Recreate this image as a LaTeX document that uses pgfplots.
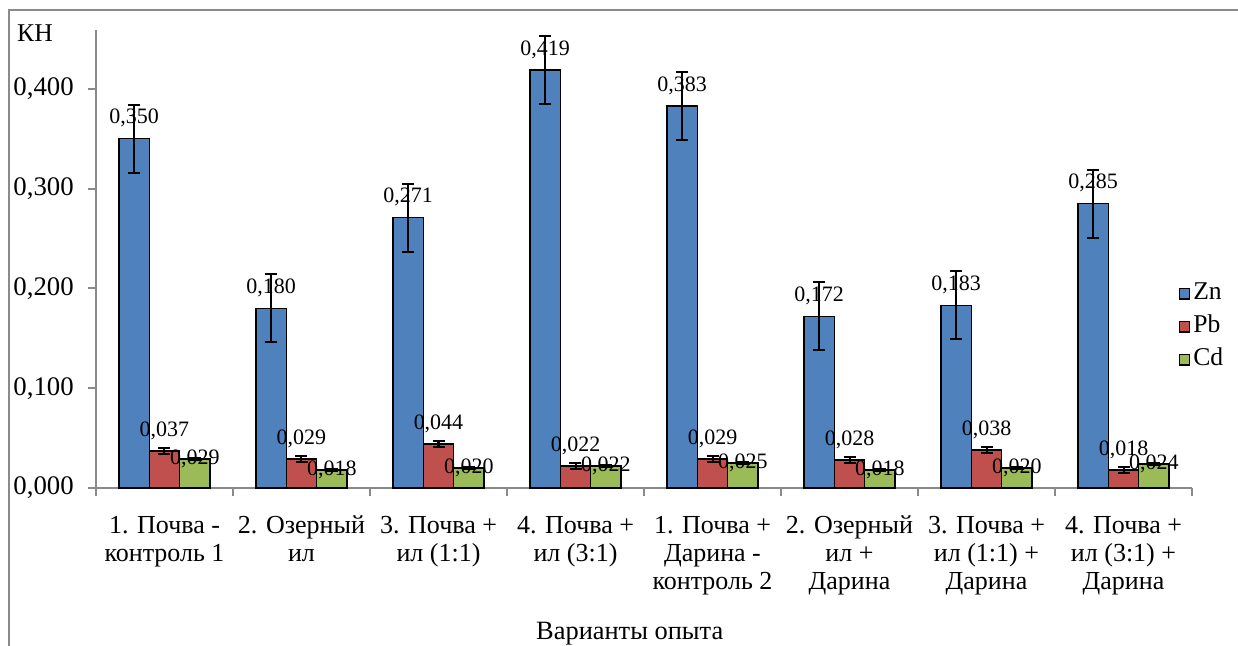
\documentclass[border=0pt]{standalone}
\usepackage{pgfplots}
\pgfplotsset{compat=1.18}
\usepackage{fontspec}
\setmainfont{Liberation Serif}
\definecolor{cZn}{HTML}{4F81BD}
\definecolor{cPb}{HTML}{C0504D}
\definecolor{cCd}{HTML}{9BBB59}
\definecolor{axgray}{HTML}{8A8A8A}
\begin{document}
\begin{tikzpicture}
\path[use as bounding box] (0,0) rectangle (619pt,323pt);
\draw[axgray, line width=1pt] (4.5pt,-2pt) -- (4.5pt,318pt) -- (625pt,318pt);
\begin{axis}[
  at={(48pt,79pt)}, anchor=south west,
  scale only axis, width=548pt, height=229pt,
  /pgf/number format/assume math mode=true,
  ybar=0pt, bar width=15.15pt,
  xmin=-0.5, xmax=7.5, ymin=0, ymax=0.459,
  axis x line=bottom, axis y line=left,
  axis line style={-, axgray, line width=1pt},
  tick align=outside,
  major tick length=4pt, minor tick length=4pt,
  xtick={0,1,2,3,4,5,6,7},
  xticklabels={{1. Почва -\\контроль 1},{2. Озерный\\ил},{3. Почва +\\ил (1:1)},{4. Почва +\\ил (3:1)},{1. Почва +\\Дарина -\\контроль 2},{2. Озерный\\ил +\\Дарина},{3. Почва +\\ил (1:1) +\\Дарина},{4. Почва +\\ил (3:1) +\\Дарина}},
  major x tick style={draw=none},
  minor xtick={-0.5,0.5,1.5,2.5,3.5,4.5,5.5,6.5,7.5},
  minor x tick style={axgray, line width=1pt},
  xticklabel style={font=\fontsize{13}{14}\selectfont, align=center, yshift=-6.5pt},
  ytick={0,0.1,0.2,0.3,0.4},
  y tick style={axgray, line width=1pt},
  yticklabel style={font=\fontsize{13.4}{15}\selectfont, xshift=-3.6pt, /pgf/number format/.cd, fixed, fixed zerofill, precision=3, use comma},
  xlabel={Варианты опыта},
  xlabel style={font=\fontsize{13.2}{15}\selectfont, at={(axis description cs:0.487,-0.318)}, anchor=center},
  nodes near coords={\pgfmathprintnumber[fixed, fixed zerofill, precision=3, use comma]{\pgfplotspointmeta}},
  every node near coord/.append style={font=\fontsize{11}{13}\selectfont, black, yshift=2pt},
  legend style={at={(0.982,0.352)}, anchor=west, draw=none, fill=none, font=\fontsize{12.8}{15}\selectfont, row sep=1.5pt, nodes={inner sep=1.5pt, text height=9pt, text depth=3pt}},
  legend cell align=left,
  legend image code/.code={\draw[#1, draw=black, line width=0.6pt] (0pt,-2.6pt) rectangle (5.2pt,2.6pt);},
  error bars/y dir=both, error bars/y explicit,
  error bars/error bar style={black, line width=1pt},
  error bars/error mark options={rotate=90, black, mark size=3pt, line width=1pt},
  clip=false,
]
\addplot[fill=cZn, draw=black, line width=0.75pt] coordinates {
  (0,0.350) +- (0,0.034)
  (1,0.180) +- (0,0.034)
  (2,0.271) +- (0,0.034)
  (3,0.419) +- (0,0.034)
  (4,0.383) +- (0,0.034)
  (5,0.172) +- (0,0.034)
  (6,0.183) +- (0,0.034)
  (7,0.285) +- (0,0.034)
};
\addplot[fill=cPb, draw=black, line width=0.75pt] coordinates {
  (0,0.037) +- (0,0.003)
  (1,0.029) +- (0,0.003)
  (2,0.044) +- (0,0.003)
  (3,0.022) +- (0,0.003)
  (4,0.029) +- (0,0.003)
  (5,0.028) +- (0,0.003)
  (6,0.038) +- (0,0.003)
  (7,0.018) +- (0,0.003)
};
\addplot[fill=cCd, draw=black, line width=0.75pt,
  every node near coord/.append style={yshift=-10pt}] coordinates {
  (0,0.029) +- (0,0.0012)
  (1,0.018) +- (0,0.0012)
  (2,0.020) +- (0,0.0012)
  (3,0.022) +- (0,0.0012)
  (4,0.025) +- (0,0.0012)
  (5,0.018) +- (0,0.0012)
  (6,0.020) +- (0,0.0012)
  (7,0.024) +- (0,0.0012)
};
\legend{Zn,Pb,Cd}
\end{axis}
\node[font=\fontsize{12.8}{15}\selectfont, anchor=center] at (17.5pt,306.5pt) {КН};
\end{tikzpicture}
\end{document}
